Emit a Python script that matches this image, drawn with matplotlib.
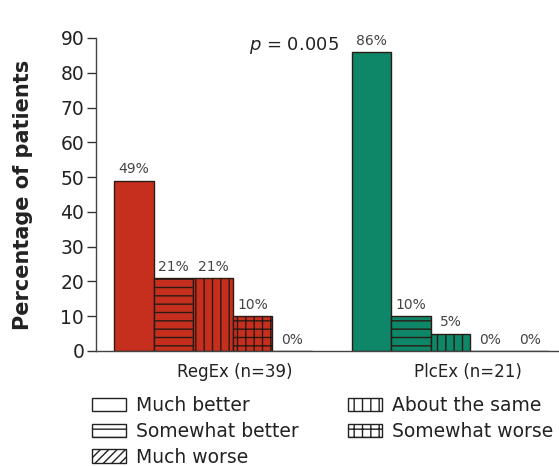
import matplotlib
matplotlib.use("Agg")
import matplotlib.pyplot as plt
from matplotlib.patches import Patch

plt.rcParams['font.family'] = ['DejaVu Sans']
plt.rcParams['hatch.linewidth'] = 1.0
plt.rcParams['hatch.color'] = '#2a1a14'

# Data
groups = ["RegEx (n=39)", "PlcEx (n=21)"]
responses = ["Much better", "Somewhat better", "About the same",
             "Somewhat worse", "Much worse"]
regex_pct = [49, 21, 21, 10, 0]
plcex_pct = [86, 10, 5, 0, 0]
group_colors = ["#c62f1e", "#0d8768"]
hatches = [None, "--", "||", "++", "////"]
yticks = [0, 10, 20, 30, 40, 50, 60, 70, 80, 90]

fig = plt.figure(figsize=(5.59, 4.66), dpi=100)
ax = fig.add_axes([0.1717, 0.2468, 0.8283, 0.6717])

group_start = [0, 6]
for g, (vals, col) in enumerate(zip([regex_pct, plcex_pct], group_colors)):
    for i, v in enumerate(vals):
        x = group_start[g] + i
        ax.bar(x, v, width=1.0, color=col, edgecolor='#2a1a14',
               linewidth=1.0, hatch=hatches[i])
        ax.text(x, v + 1.2, f"{v}%", ha='center', va='bottom',
                fontsize=10, color='#444444')

ax.set_xlim(-0.955, 10.74)
ax.set_ylim(0, 90)
ax.set_yticks(yticks)
ax.tick_params(axis='y', labelsize=13.5, length=6.5, width=1,
               color='#333333', pad=2, labelcolor='#222222')
ax.set_xticks([])
for s in ['top', 'right']:
    ax.spines[s].set_visible(False)
for s in ['left', 'bottom']:
    ax.spines[s].set_color('#444444')
    ax.spines[s].set_linewidth(1.0)

ylab = ax.set_ylabel("Percentage of patients", fontsize=15,
                     fontweight='bold', color='#222222')
ylab.set_va('center')
ax.yaxis.set_label_coords(-0.158, 0.5)

# group labels under each cluster
for pos, name in zip([2.55, 8.45], groups):
    ax.text(pos, -6, name, ha='center', va='center', fontsize=12,
            color='#222222')

fig.text(0.526, 0.902, r"$p$ = 0.005", ha='center', va='center',
         fontsize=13, color='#222222')

# legend in two columns
handles = {r: Patch(facecolor='white', edgecolor='#222222', linewidth=1.0,
                    hatch=h) for r, h in zip(responses, hatches)}
columns = [["Much better", "Somewhat better", "Much worse"],
           ["About the same", "Somewhat worse"]]
col_x = [92 / 559, 348 / 559]
for cx, labels in zip(col_x, columns):
    leg = fig.legend([handles[l] for l in labels], labels, loc='upper left',
                     bbox_to_anchor=(cx, 0.150), frameon=False,
                     fontsize=13.5, handlelength=1.8, handleheight=0.7,
                     handletextpad=0.53, labelspacing=0.36,
                     borderaxespad=0, borderpad=0)
    for t in leg.get_texts():
        t.set_color('#222222')

fig.savefig("out.png", dpi=100)
